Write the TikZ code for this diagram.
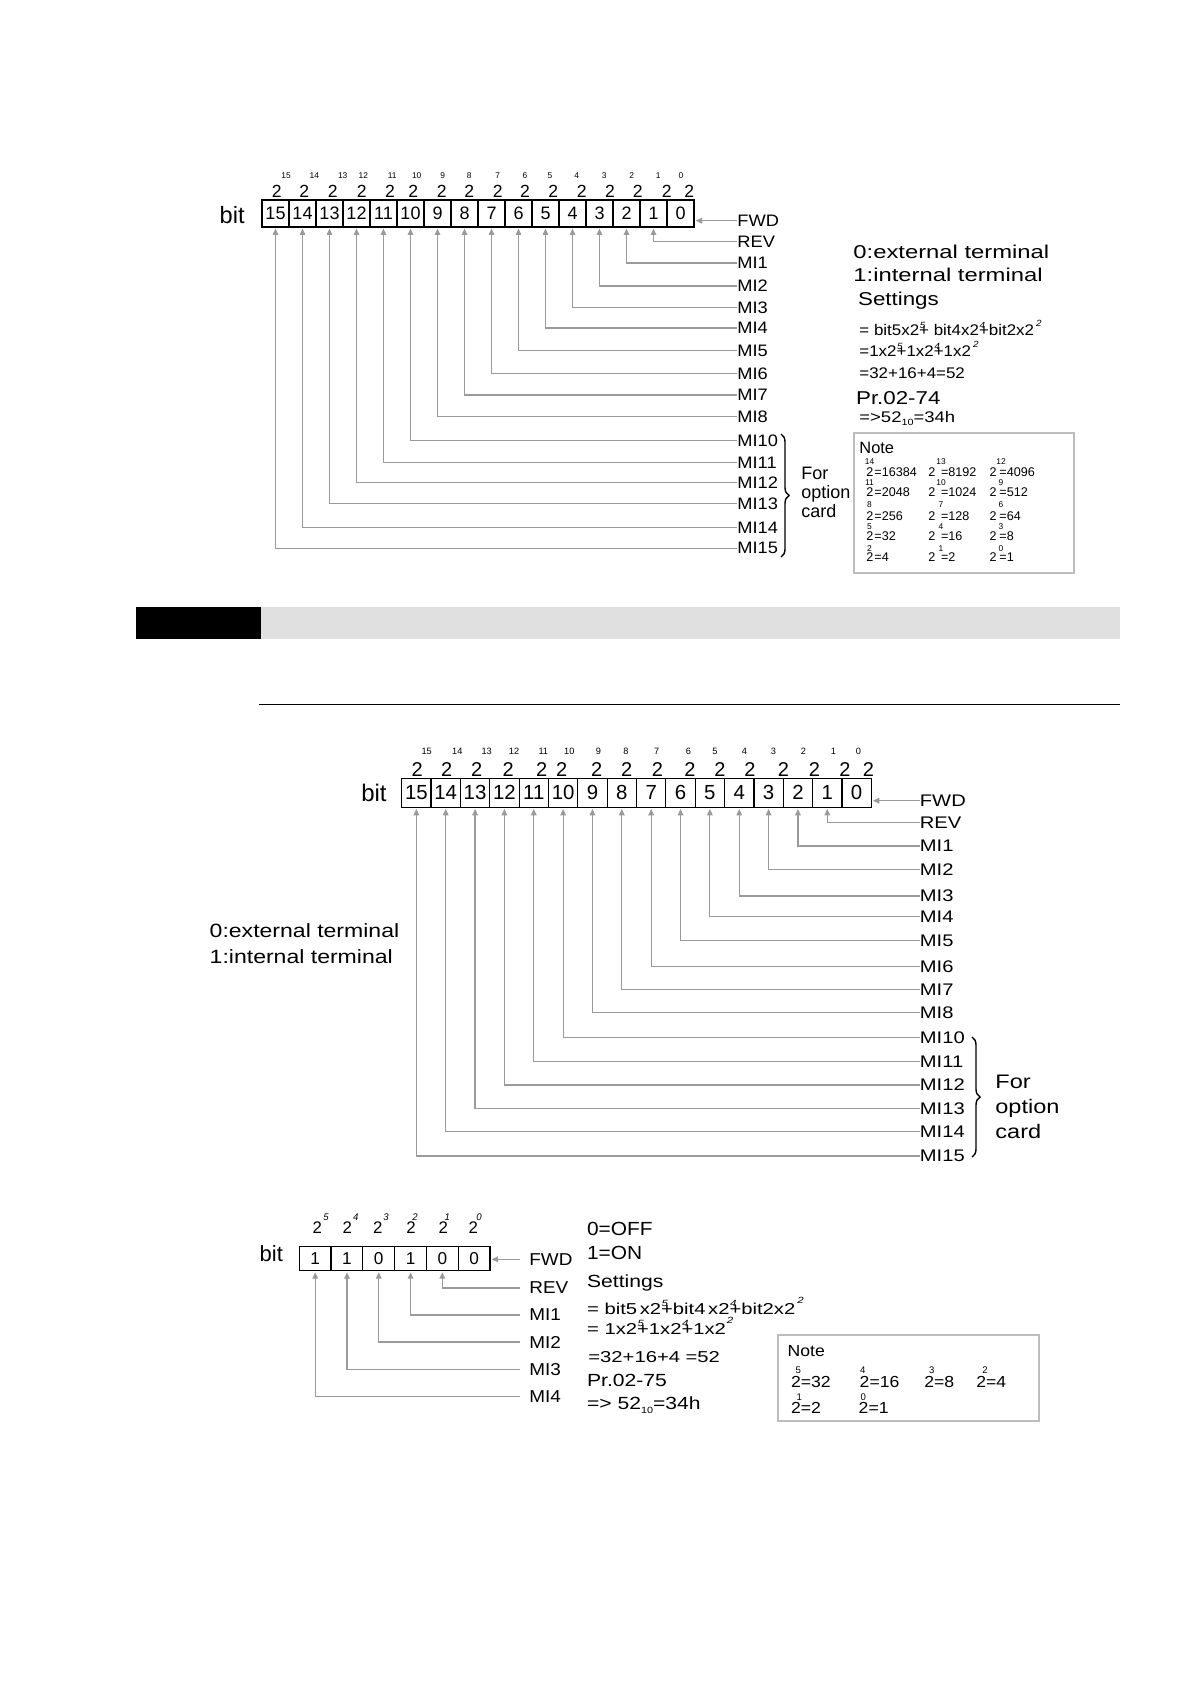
\documentclass[tikz,border=0pt]{standalone}
\usepackage{fontspec}
\setmainfont{Liberation Sans}
\newfontfamily\sA{Liberation Sans}[FakeStretch=1.1]
\newfontfamily\sB{Liberation Sans}[FakeStretch=1.2]
\newfontfamily\sC{Liberation Sans}[FakeStretch=1.28]
\usetikzlibrary{arrows.meta,decorations.pathreplacing}
\definecolor{lngray}{HTML}{9A9A9A}
\definecolor{bandgray}{HTML}{E0E0E0}
\definecolor{notegray}{HTML}{BDBDBD}
\newcommand\fsz[1]{\fontsize{#1}{#1}\selectfont}
\newcommand\upx[1]{\smash{\rlap{\kern0.3pt\raisebox{0.95ex}{\fontsize{4.5}{4.5}\selectfont\itshape #1}}}}
\newcommand\upr[1]{\smash{\raisebox{1.2ex}{\fontsize{4.5}{4.5}\selectfont\itshape #1}}}
\newcommand\dnx[1]{\smash{\raisebox{-0.4ex}{\fontsize{4.5}{4.5}\selectfont #1}}}
\begin{document}
\begin{tikzpicture}[x=0.5pt,y=-0.5pt,
  cellA/.style={draw,line width=0.6pt,minimum width=13.5pt,minimum height=13.5pt,inner sep=0pt,font=\fsz{9}},
  cellB/.style={draw,line width=0.6pt,minimum width=14.675pt,minimum height=14.5pt,inner sep=0pt,font=\fsz{10.2}},
  cellC/.style={draw,line width=0.6pt,minimum width=15.89pt,minimum height=12pt,inner sep=0pt,font=\fsz{8.6}},
  twoA/.style={inner sep=0pt,font=\fsz{8.8}},
  twoB/.style={inner sep=0pt,font=\fsz{10}},
  twoC/.style={inner sep=0pt,font=\fsz{8.4}},
  expo/.style={inner sep=0pt,font=\fsz{4.2}},
  expoB/.style={inner sep=0pt,font=\fsz{4.6}},
  expoC/.style={inner sep=0pt,font=\fsz{4.8}\itshape},
  bitlab/.style={anchor=east,inner sep=0pt},
  labA/.style={anchor=west,inner sep=0pt,font=\sA\fsz{8.3}},
  labB/.style={anchor=west,inner sep=0pt,font=\sB\fsz{8.4}},
  labC/.style={anchor=west,inner sep=0pt,font=\sA\fsz{8.6}},
  tb/.style={anchor=base west,inner sep=0pt},
  ntA/.style={anchor=base west,inner sep=0pt,font=\fsz{6.3}},
  neA/.style={anchor=base,inner sep=0pt,font=\fsz{4.2}},
  ntC/.style={anchor=base west,inner sep=0pt,font=\sA\fsz{8}},
  neC/.style={anchor=base,inner sep=0pt,font=\fsz{4.8}},
  conn/.style={draw=lngray,line width=0.6pt,-{Triangle[length=3.2pt,width=2.8pt]},shorten >=0.5pt},
  notebox/.style={draw=notegray,line width=0.9pt},
  bracestyle/.style={decorate,decoration={brace,amplitude=4pt},line width=0.7pt}
]
\useasboundingbox (0,0) rectangle (1190,1684);

% ================= Diagram 1 =================
\node[bitlab,font=\fsz{11.8}] (Abit) at (245,215) {bit};
\foreach \k in {0,...,15} \node[cellA] (A\k) at ({275.5+27*(15-\k)},213.5) {\k};
\foreach \k/\tx/\ex in {15/276.7/286,14/304.3/314.3,13/332.7/342.7,12/361.7/363.3,11/390/392.3,10/413.3/416.7,9/441.7/442.7,8/469.3/469.3,7/497.7/497.7,6/525/525,5/553.3/550,4/581.7/576.7,3/610/604.3,2/637.7/631.7,1/666.7/658.3,0/689.3/681}{
  \node[twoA] (AT\k) at (\tx,191.5) {2};
  \node[expo] (AE\k) at (\ex,176) {\k};
}
\node[labA] (AF) at (737,220.7) {FWD};
\draw[conn] (AF.west) -- (AF.west -| A0.east);
\foreach \k/\n/\y in {1/REV/241.7,2/MI1/263,3/MI2/286,4/MI3/307.7,5/MI4/328,6/MI5/350.7,7/MI6/373.3,8/MI7/395,9/MI8/416.7,10/MI10/440.7,11/MI11/462.3,12/MI12/482.3,13/MI13/503.3,14/MI14/527.3,15/MI15/548.3}{
  \node[labA] (AL\k) at (737,\y) {\n};
  \draw[conn] (AL\k.west) -| (A\k.south);
}
\draw[bracestyle] (781,434) -- (781,557);
\node[tb,font=\fsz{9}] (AFor) at (801,479.3) {For};
\node[tb,font=\fsz{9}] (Aopt) at (801,498.3) {option};
\node[tb,font=\fsz{9}] (Acard) at (801,517.3) {card};

\node[tb,font=\sC\fsz{9.3}] (At0) at (853,258.3) {0:external terminal};
\node[tb,font=\sC\fsz{9.3}] (At1) at (853,281.7) {1:internal terminal};
\node[tb,font=\sB\fsz{9.3}] (Aset) at (857.7,306) {Settings};
\node[tb,font=\sA\fsz{7.7}] (Aeq1) at (859,336) {= bit5x2\upx{5}+ bit4x2\upx{4}+bit2x2\hspace{1pt}\upr{2}};
\node[tb,font=\sA\fsz{7.7}] (Aeq2) at (859,357) {=1x2\upx{5}+1x2\upx{4}+1x2\hspace{1pt}\upr{2}};
\node[tb,font=\sA\fsz{7.7}] (Aeq3) at (859,378.3) {=32+16+4=52};
\node[tb,font=\sB\fsz{9.3}] (Apr) at (855.7,405) {Pr.02-74};
\node[tb,font=\sB\fsz{7.7}] (Ahex) at (859,422.7) {=>52\dnx{10}=34h};

\draw[notebox] (854,433.3) rectangle (1074,573.3);
\node[tb,font=\fsz{8.2}] (Anote) at (859,453.3) {Note};
\foreach \r/\yb/\ye/\a/\ea/\b/\eb/\c/\ec in {1/476/465/16384/14/8192/13/4096/12,2/496/485/2048/11/1024/10/512/9,3/520/507.3/256/8/128/7/64/6,4/540.7/529.3/32/5/16/4/8/3,5/561.7/551.7/4/2/2/1/1/0}{
  \node[ntA] (Na\r) at (866,\yb) {2};
  \node[neA] (Nae\r) at (869.5,\ye) {\ea};
  \node[ntA] (Nav\r) at (874,\yb) {=\a};
  \node[ntA] (Nb\r) at (928,\yb) {2};
  \node[neA] (Nbe\r) at (941,\ye) {\eb};
  \node[ntA] (Nbv\r) at (940.7,\yb) {=\b};
  \node[ntA] (Nc\r) at (989.3,\yb) {2};
  \node[neA] (Nce\r) at (1001,\ye) {\ec};
  \node[ntA] (Ncv\r) at (999,\yb) {=\c};
}

% ================= Header band =================
\fill (136,606.7) rectangle (261,639);
\fill[bandgray] (261,606.7) rectangle (1120,639);
\draw[line width=0.7pt] (259,704.3) -- (1120,704.3);

% ================= Diagram 2 =================
\node[bitlab,font=\fsz{12}] (Bbit) at (387,793) {bit};
\foreach \k in {0,...,15} \node[cellB] (B\k) at ({416.375+29.35*(15-\k)},792.8) {\k};
\foreach \k/\tx/\ex in {15/417.3/426.7,14/446.7/457.3,13/476.7/486.7,12/508.3/514,11/541.7/543.3,10/561.7/569.3,9/596.7/598.3,8/626.7/626,7/657.3/656.7,6/690/688.3,5/720/715,4/750/744.3,3/783.3/773.3,2/814.3/803.3,1/845/833.3,0/868.3/858.3}{
  \node[twoB] (BT\k) at (\tx,769.3) {2};
  \node[expoB] (BE\k) at (\ex,751) {\k};
}
\node[labB] (BF) at (919.5,800.7) {FWD};
\draw[conn] (BF.west) -- (BF.west -| B0.east);
\foreach \k/\n/\y in {1/REV/822.7,2/MI1/846,3/MI2/869.3,4/MI3/896,5/MI4/916.7,6/MI5/940.7,7/MI6/966.7,8/MI7/989.3,9/MI8/1012.7,10/MI10/1037.7,11/MI11/1061.7,12/MI12/1085,13/MI13/1108.3,14/MI14/1131.7,15/MI15/1156}{
  \node[labB] (BL\k) at (919.5,\y) {\n};
  \draw[conn] (BL\k.west) -| (B\k.south);
}
\draw[bracestyle] (972,1037) -- (972,1157);
\node[tb,font=\sB\fsz{9.8}] (BFor) at (995,1088.3) {For};
\node[tb,font=\sB\fsz{9.8}] (Bopt) at (995,1113.3) {option};
\node[tb,font=\sB\fsz{9.8}] (Bcard) at (995,1138.3) {card};
\node[tb,font=\sB\fsz{9.6}] (Bt0) at (209.3,937.7) {0:external terminal};
\node[tb,font=\sB\fsz{9.6}] (Bt1) at (209.3,963.3) {1:internal terminal};

% ================= Diagram 3 =================
\node[bitlab,font=\fsz{11}] (Cbit) at (283.3,1253.3) {bit};
\foreach \k/\v in {5/1,4/1,3/0,2/1,1/0,0/0} \node[cellC] (C\k) at ({315.2+31.78*(5-\k)},1258.7) {\v};
\foreach \k/\tx/\ex in {5/317.3/326,4/347.3/355.7,3/377.7/386,2/411/415,1/443.3/447.3,0/473.3/479}{
  \node[twoC] (CT\k) at (\tx,1227.5) {2};
  \node[expoC] (CE\k) at (\ex,1217) {\k};
}
\node[labC] (CF) at (529,1259.3) {FWD};
\draw[conn] (CF.west) ++(-9,0) coordinate (CFs) -- (CFs -| C0.east);
\foreach \k/\n/\y in {1/REV/1288,2/MI1/1315,3/MI2/1342,4/MI3/1369.5,5/MI4/1396.3}{
  \node[labC] (CL\k) at (529,\y) {\n};
  \draw[conn,shorten <=4.5pt] (CL\k.west) -| (C\k.south);
}
\node[tb,font=\sA\fsz{9.5}] (Coff) at (586.7,1235) {0=OFF};
\node[tb,font=\sA\fsz{9.5}] (Con) at (586.7,1259.3) {1=ON};
\node[tb,font=\sB\fsz{8.8}] (Cset) at (586.7,1287.3) {Settings};
\node[tb,font=\sC\fsz{7.9}] (Ceq1) at (586.7,1314) {= bit5\,x2\upx{5}+bit4\,x2\upx{4}+bit2x2\hspace{1pt}\upr{2}};
\node[tb,font=\sC\fsz{7.9}] (Ceq2) at (586.7,1334) {= 1x2\upx{5}+1x2\upx{4}+1x2\hspace{0.5pt}\upr{2}};
\node[tb,font=\sC\fsz{7.9}] (Ceq3) at (588,1362.7) {=32+16+4 =52};
\node[tb,font=\sB\fsz{8.8}] (Cpr) at (586.7,1386.7) {Pr.02-75};
\node[tb,font=\sB\fsz{8.8}] (Chex) at (586.7,1409.3) {=> 52\dnx{10}=34h};

\draw[notebox] (778.3,1335) rectangle (1039.3,1420.7);
\node[tb,font=\sA\fsz{8}] (Cnote) at (787.3,1356) {Note};
\foreach \i/\x/\yb/\ye/\ex/\e/\v in {1/790.7/1387.3/1373.3/798.3/5/32,2/859.3/1387.3/1373.3/862.7/4/16,3/924/1387.3/1373.3/931.7/3/8,4/976/1387.3/1373.3/985/2/4,5/790.7/1413.3/1400.7/799.3/1/2,6/858.3/1413.3/1400.7/863.3/0/1}{
  \node[ntC] (Cn\i) at (\x,\yb) {2=\v};
  \node[neC] (Cne\i) at (\ex,\ye) {\e};
}
\end{tikzpicture}
\end{document}
